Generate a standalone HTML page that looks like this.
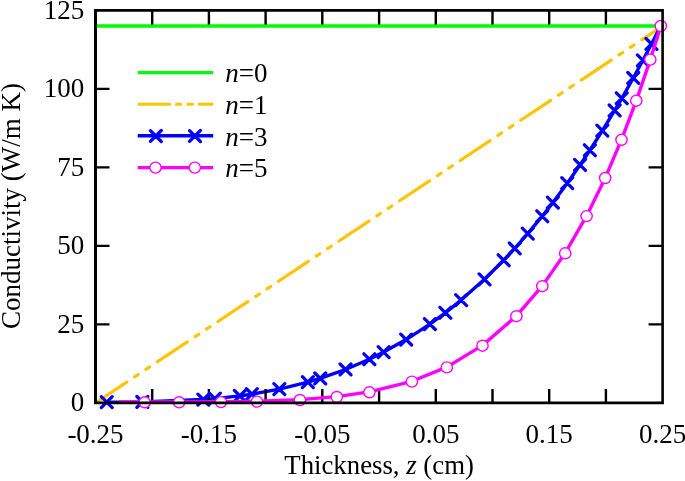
<!DOCTYPE html>
<html lang="en"><head><meta charset="utf-8"><title>Conductivity vs thickness</title>
<style>html,body{margin:0;padding:0;background:#fff}body{width:685px;height:481px;overflow:hidden}</style></head>
<body>
<svg width="685" height="481" viewBox="0 0 685 481" style="display:block">
<rect width="685" height="481" fill="#fff"/>
<line x1="95.5" y1="26" x2="662.6" y2="26" stroke="#00fc00" stroke-width="3.6"/>
<line x1="96.83" y1="402.01" x2="662.6" y2="26.0" stroke="#ffc400" stroke-width="3.2" stroke-linecap="round" stroke-dasharray="35.94 9.44 4.36 9.20 4.36 9.41"/>
<polyline points="106.8,402.2 142.3,402.0 203.3,399.5 214.8,398.6 239.8,395.9 251.8,394.2 279.3,389.2 307.8,382.1 320.2,378.4 345.5,369.5 369.4,359.2 383.7,352.1 406.1,339.6 429.9,324.1 445.3,312.8 461.1,300.1 484.5,279.3 503.7,260.2 514.7,248.5 527.8,233.6 542.2,216.2 552.9,202.6 567.3,183.2 580.1,164.9 589.9,150.2 602.4,130.6 614.7,110.4 621.8,98.3 633.3,78.0 642.9,60.3 651.5,44.0 661.0,25.3" fill="none" stroke="#0000ff" stroke-width="3.4" stroke-linejoin="round"/>
<path d="M152.2 402.9v-14M152.2 10.4v14M208.9 402.9v-14M208.9 10.4v14M265.6 402.9v-14M265.6 10.4v14M322.3 402.9v-14M322.3 10.4v14M379.1 402.9v-14M379.1 10.4v14M435.8 402.9v-14M435.8 10.4v14M492.5 402.9v-14M492.5 10.4v14M549.2 402.9v-14M549.2 10.4v14M605.9 402.9v-14M605.9 10.4v14M95.5 324.4h14M662.6 324.4h-14M95.5 245.9h14M662.6 245.9h-14M95.5 167.4h14M662.6 167.4h-14M95.5 88.9h14M662.6 88.9h-14" stroke="#000" stroke-width="2.4" fill="none"/>
<path d="M101.3 396.7l10.9 10.9M101.3 407.6l10.9 -10.9M136.9 396.5l10.9 10.9M136.9 407.4l10.9 -10.9M197.9 394.1l10.9 10.9M197.9 405.0l10.9 -10.9M209.4 393.2l10.9 10.9M209.4 404.1l10.9 -10.9M234.4 390.4l10.9 10.9M234.4 401.3l10.9 -10.9M246.4 388.7l10.9 10.9M246.4 399.6l10.9 -10.9M273.9 383.7l10.9 10.9M273.9 394.6l10.9 -10.9M302.4 376.7l10.9 10.9M302.4 387.6l10.9 -10.9M314.8 373.0l10.9 10.9M314.8 383.9l10.9 -10.9M340.1 364.0l10.9 10.9M340.1 374.9l10.9 -10.9M363.9 353.8l10.9 10.9M363.9 364.7l10.9 -10.9M378.2 346.7l10.9 10.9M378.2 357.6l10.9 -10.9M400.7 334.1l10.9 10.9M400.7 345.0l10.9 -10.9M424.4 318.6l10.9 10.9M424.4 329.5l10.9 -10.9M439.9 307.3l10.9 10.9M439.9 318.2l10.9 -10.9M455.7 294.7l10.9 10.9M455.7 305.6l10.9 -10.9M479.1 273.9l10.9 10.9M479.1 284.8l10.9 -10.9M498.2 254.8l10.9 10.9M498.2 265.7l10.9 -10.9M509.3 243.0l10.9 10.9M509.3 253.9l10.9 -10.9M522.3 228.2l10.9 10.9M522.3 239.1l10.9 -10.9M536.8 210.8l10.9 10.9M536.8 221.7l10.9 -10.9M547.4 197.1l10.9 10.9M547.4 208.0l10.9 -10.9M561.8 177.7l10.9 10.9M561.8 188.6l10.9 -10.9M574.6 159.4l10.9 10.9M574.6 170.3l10.9 -10.9M584.4 144.8l10.9 10.9M584.4 155.7l10.9 -10.9M596.9 125.2l10.9 10.9M596.9 136.1l10.9 -10.9M609.2 105.0l10.9 10.9M609.2 115.9l10.9 -10.9M616.3 92.8l10.9 10.9M616.3 103.7l10.9 -10.9M627.8 72.5l10.9 10.9M627.8 83.4l10.9 -10.9M637.4 54.9l10.9 10.9M637.4 65.8l10.9 -10.9M646.0 38.5l10.9 10.9M646.0 49.4l10.9 -10.9" stroke="#0000ff" stroke-width="3.25" stroke-linecap="round" fill="none"/>
<polyline points="119.0,401.9 144.7,401.9 179.1,401.9 221.0,401.7 256.9,401.2 299.9,399.6 336.8,396.6 369.4,391.9 411.9,381.3 446.8,367.1 482.5,345.4 516.4,315.9 542.3,285.9 565.2,253.0 586.6,215.9 605.2,177.9 621.5,139.7 636.3,100.7 650.3,59.6 660.8,26.0" fill="none" stroke="#ff00ff" stroke-width="3.4" stroke-linejoin="round"/>
<ellipse cx="144.7" cy="402.3" rx="5.65" ry="5.5" fill="#fff" stroke="#ff00ff" stroke-width="1.4"/>
<ellipse cx="179.1" cy="402.3" rx="5.65" ry="5.5" fill="#fff" stroke="#ff00ff" stroke-width="1.4"/>
<ellipse cx="221.0" cy="402.1" rx="5.65" ry="5.5" fill="#fff" stroke="#ff00ff" stroke-width="1.4"/>
<ellipse cx="256.9" cy="401.6" rx="5.65" ry="5.5" fill="#fff" stroke="#ff00ff" stroke-width="1.4"/>
<ellipse cx="299.9" cy="400.0" rx="5.65" ry="5.5" fill="#fff" stroke="#ff00ff" stroke-width="1.4"/>
<ellipse cx="336.8" cy="397.0" rx="5.65" ry="5.5" fill="#fff" stroke="#ff00ff" stroke-width="1.4"/>
<ellipse cx="369.4" cy="392.3" rx="5.65" ry="5.5" fill="#fff" stroke="#ff00ff" stroke-width="1.4"/>
<ellipse cx="411.9" cy="381.6" rx="5.65" ry="5.5" fill="#fff" stroke="#ff00ff" stroke-width="1.4"/>
<ellipse cx="446.8" cy="367.4" rx="5.65" ry="5.5" fill="#fff" stroke="#ff00ff" stroke-width="1.4"/>
<ellipse cx="482.5" cy="345.7" rx="5.65" ry="5.5" fill="#fff" stroke="#ff00ff" stroke-width="1.4"/>
<ellipse cx="516.4" cy="316.2" rx="5.65" ry="5.5" fill="#fff" stroke="#ff00ff" stroke-width="1.4"/>
<ellipse cx="542.3" cy="286.2" rx="5.65" ry="5.5" fill="#fff" stroke="#ff00ff" stroke-width="1.4"/>
<ellipse cx="565.2" cy="253.3" rx="5.65" ry="5.5" fill="#fff" stroke="#ff00ff" stroke-width="1.4"/>
<ellipse cx="586.6" cy="216.1" rx="5.65" ry="5.5" fill="#fff" stroke="#ff00ff" stroke-width="1.4"/>
<ellipse cx="605.2" cy="178.0" rx="5.65" ry="5.5" fill="#fff" stroke="#ff00ff" stroke-width="1.4"/>
<ellipse cx="621.5" cy="139.8" rx="5.65" ry="5.5" fill="#fff" stroke="#ff00ff" stroke-width="1.4"/>
<ellipse cx="636.3" cy="100.7" rx="5.65" ry="5.5" fill="#fff" stroke="#ff00ff" stroke-width="1.4"/>
<ellipse cx="650.3" cy="59.6" rx="5.65" ry="5.5" fill="#fff" stroke="#ff00ff" stroke-width="1.4"/>
<ellipse cx="660.8" cy="26.0" rx="5.65" ry="5.5" fill="#fff" stroke="#ff00ff" stroke-width="1.4"/>
<g stroke="#000" fill="none">
<path d="M94 9H663.9V404.3H94ZM97 11.8V401.4H661.3V11.8Z" fill="#000" fill-rule="evenodd" stroke="none"/>
</g>
<g font-family="'Liberation Serif', serif" font-size="27" fill="#000">
<text x="84.3" y="411.3" text-anchor="end">0</text>
<text x="84.3" y="332.8" text-anchor="end">25</text>
<text x="84.3" y="254.3" text-anchor="end">50</text>
<text x="84.3" y="175.8" text-anchor="end">75</text>
<text x="84.3" y="97.3" text-anchor="end">100</text>
<text x="84.3" y="18.8" text-anchor="end">125</text>
<text x="95.5" y="442.8" text-anchor="middle">-0.25</text>
<text x="208.9" y="442.8" text-anchor="middle">-0.15</text>
<text x="322.3" y="442.8" text-anchor="middle">-0.05</text>
<text x="435.8" y="442.8" text-anchor="middle">0.05</text>
<text x="549.2" y="442.8" text-anchor="middle">0.15</text>
<text x="662.6" y="442.8" text-anchor="middle">0.25</text>
<text transform="translate(379.1 473.7) scale(0.992 1)" text-anchor="middle">Thickness, <tspan font-style="italic">z</tspan> (cm)</text>
<text transform="translate(19.9 206) rotate(-90)" text-anchor="middle">Conductivity (W/m K)</text>
<text x="225.2" y="82.2"><tspan font-style="italic">n</tspan>=0</text>
<text x="225.2" y="113.7"><tspan font-style="italic">n</tspan>=1</text>
<text x="225.2" y="145.9"><tspan font-style="italic">n</tspan>=3</text>
<text x="225.2" y="177.0"><tspan font-style="italic">n</tspan>=5</text>
</g>
<line x1="137.7" y1="72.7" x2="213.2" y2="72.7" stroke="#00fc00" stroke-width="3.2"/>
<line x1="137.7" y1="104.2" x2="213.2" y2="104.2" stroke="#ffc400" stroke-width="3.1" stroke-dasharray="33.2 4.4 6.6 4.8 7 4.4"/>
<line x1="137.7" y1="135.8" x2="213.2" y2="135.8" stroke="#0000ff" stroke-width="3.4"/>
<path d="M150.4 130.6l10.9 10.9M150.4 141.4l10.9 -10.9M189.5 130.6l10.9 10.9M189.5 141.4l10.9 -10.9" stroke="#0000ff" stroke-width="3.25" stroke-linecap="round" fill="none"/>
<line x1="137.7" y1="167.6" x2="213.2" y2="167.6" stroke="#ff00ff" stroke-width="3.4"/>
<ellipse cx="155.5" cy="167.6" rx="5.65" ry="5.5" fill="#fff" stroke="#ff00ff" stroke-width="1.4"/>
<ellipse cx="194.8" cy="167.6" rx="5.65" ry="5.5" fill="#fff" stroke="#ff00ff" stroke-width="1.4"/>
</svg>
</body></html>
